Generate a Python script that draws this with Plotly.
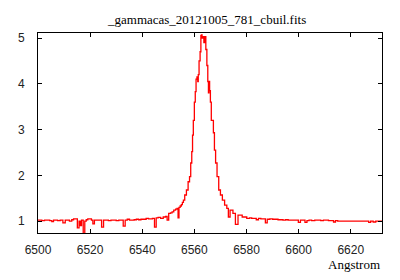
import plotly.graph_objects as go

wavelength = [
    6500.0, 6501.0, 6502.0, 6503.0, 6504.0, 6505.0, 6505.6, 6506.3, 6507.0, 6508.0,
    6509.0, 6510.1, 6510.8, 6511.5, 6512.6, 6513.3, 6514.0, 6514.7, 6515.5, 6516.0,
    6516.4, 6517.0, 6517.7, 6518.2, 6518.8, 6519.4, 6520.2, 6520.8, 6521.3, 6522.0,
    6523.0, 6524.0, 6524.8, 6525.5, 6526.5, 6527.5, 6528.5, 6529.5, 6530.5, 6531.5,
    6532.3, 6533.1, 6533.8, 6534.7, 6535.5, 6536.5, 6537.3, 6538.2, 6539.0, 6540.0,
    6541.0, 6542.0, 6542.8, 6543.5, 6544.3, 6545.1, 6545.6, 6546.6, 6547.5, 6548.6,
    6549.3, 6549.8, 6550.5, 6551.2, 6551.7, 6552.5, 6553.1, 6553.6, 6553.9, 6554.3,
    6554.8, 6555.2, 6555.6, 6556.0, 6556.6, 6557.3, 6557.9, 6558.4, 6558.8, 6559.2,
    6559.4, 6559.8, 6560.2, 6560.5, 6560.8, 6561.2, 6561.4, 6561.6, 6562.0, 6562.4,
    6562.6, 6562.8, 6563.1, 6563.5, 6563.8, 6564.2, 6564.6, 6565.0, 6565.3, 6565.5,
    6565.7, 6566.0, 6566.3, 6566.7, 6567.1, 6567.5, 6567.9, 6568.4, 6569.0, 6569.7,
    6570.3, 6571.2, 6572.0, 6572.9, 6573.2, 6574.2, 6575.4, 6576.1, 6577.4, 6579.3,
    6580.9, 6581.5, 6582.5, 6583.3, 6584.2, 6585.0, 6586.0, 6586.9, 6587.6, 6588.3,
    6589.6, 6590.5, 6591.5, 6592.7, 6593.5, 6594.5, 6595.5, 6596.5, 6597.7, 6598.5,
    6599.4, 6600.4, 6601.0, 6602.0, 6602.9, 6603.5, 6604.5, 6605.5, 6606.9, 6608.0,
    6609.0, 6610.0, 6611.0, 6611.9, 6613.0, 6613.8, 6614.5, 6615.5, 6616.5, 6617.5,
    6618.5, 6619.6, 6620.5, 6621.5, 6622.5, 6623.5, 6624.5, 6625.5, 6626.5, 6627.3,
    6628.0, 6629.2, 6630.0, 6631.0, 6632.0,
]
flux = [
    1.02, 1.02, 1.01, 1.02, 1.02, 1.01, 0.99, 1.02, 1.02, 1.01,
    1.02, 0.96, 1.02, 1.02, 1.00, 1.03, 1.05, 1.05, 0.85, 1.00,
    0.90, 1.02, 0.72, 1.00, 1.03, 1.05, 1.05, 1.02, 0.94, 1.02,
    1.02, 1.02, 0.87, 1.02, 1.02, 1.01, 1.02, 1.02, 1.01, 1.02,
    1.02, 0.89, 1.02, 1.04, 1.02, 1.02, 1.03, 1.04, 1.03, 1.04,
    1.04, 1.06, 1.05, 1.05, 1.06, 0.87, 1.07, 1.08, 1.06, 1.09,
    1.10, 1.02, 1.17, 1.18, 1.20, 1.24, 1.26, 1.28, 1.07, 1.30,
    1.33, 1.36, 1.41, 1.46, 1.57, 1.68, 1.86, 1.97, 2.27, 2.52,
    2.88, 3.20, 3.60, 3.83, 4.10, 4.15, 4.05, 4.20, 4.50, 4.70,
    5.05, 5.07, 5.00, 5.03, 4.90, 5.03, 4.75, 4.40, 4.05, 3.80,
    4.05, 3.85, 3.60, 3.20, 3.20, 2.93, 2.55, 2.27, 1.97, 1.68,
    1.57, 1.46, 1.35, 1.28, 1.09, 1.24, 1.17, 0.93, 1.13, 1.09,
    1.06, 1.07, 1.06, 1.06, 1.03, 1.06, 1.05, 1.05, 0.96, 1.04,
    1.05, 1.04, 1.04, 1.03, 1.03, 1.02, 1.03, 1.02, 1.02, 1.02,
    1.02, 0.97, 1.02, 1.02, 0.97, 1.01, 1.02, 1.01, 1.02, 1.02,
    1.01, 1.02, 1.02, 1.01, 1.01, 0.98, 1.01, 1.00, 1.00, 1.00,
    1.00, 1.00, 1.00, 1.00, 1.00, 1.00, 1.00, 1.00, 1.00, 0.97,
    1.00, 0.98, 1.00, 1.00, 1.00,
]

x_ticks = [6500, 6520, 6540, 6560, 6580, 6600, 6620]
y_ticks = [1, 2, 3, 4, 5]

title_text = "_gammacas_20121005_781_cbuil.fits"
x_label = "Angstrom"

fig = go.Figure()
fig.add_trace(go.Scatter(
    x=wavelength, y=flux, mode="lines",
    line=dict(color="#ff0000", width=1.3, shape="hvh"),
    showlegend=False,
))

axis_common = dict(
    showline=True, linecolor="black", linewidth=1, mirror="allticks",
    ticks="inside", ticklen=4, tickcolor="black", tickwidth=1,
    showgrid=False, zeroline=False,
    tickfont=dict(family="Liberation Sans", size=12, color="#222222"),
)

fig.update_layout(
    width=400, height=280,
    margin=dict(l=38, r=18, t=33, b=47),
    paper_bgcolor="white", plot_bgcolor="white",
    xaxis=dict(range=[6500, 6632], tickvals=x_ticks, ticklabelstandoff=6, **axis_common),
    yaxis=dict(range=[0.74, 5.11], tickvals=y_ticks, ticklabelstandoff=10, **axis_common),
    annotations=[
        dict(text=title_text, xref="paper", yref="paper", x=0.49, y=1, yshift=14,
             xanchor="center", yanchor="middle", showarrow=False,
             font=dict(family="Liberation Serif", size=13, color="black")),
        dict(text=x_label, xref="paper", yref="paper", x=1, y=0, yshift=-31,
             xanchor="right", yanchor="middle", showarrow=False,
             font=dict(family="Liberation Serif", size=13, color="black")),
    ],
)

fig.write_html("out.html")
